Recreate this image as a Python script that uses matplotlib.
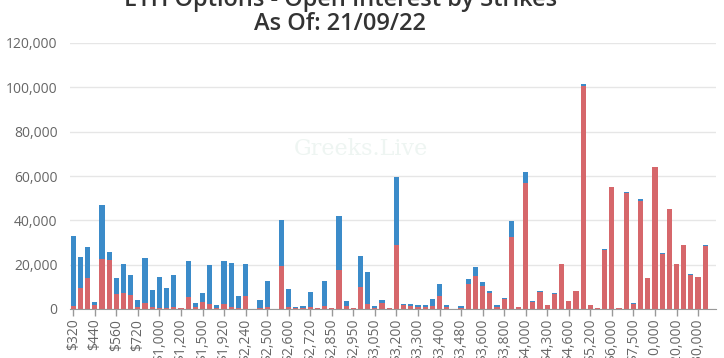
import matplotlib
matplotlib.use("Agg")
import matplotlib.pyplot as plt
import numpy as np

strikes = [320, 360, 400, 440, 480, 520, 560, 600, 640, 720, 800, 900, 1000, 1100, 1150,
           1200, 1300, 1400, 1500, 1600, 1800, 1920, 2000, 2100, 2240, 2300, 2400, 2500,
           2550, 2560, 2600, 2640, 2680, 2720, 2750, 2800, 2850, 2880, 2900, 2950, 3000,
           3040, 3050, 3100, 3150, 3200, 3250, 3280, 3300, 3320, 3350, 3400, 3440, 3450,
           3480, 3500, 3520, 3600, 3700, 3750, 3800, 3840, 3900, 4000, 4100, 4200, 4300,
           4400, 4500, 4600, 4800, 5000, 5200, 5400, 5500, 6000, 6400, 7000, 7500, 8000,
           9000, 10000, 12000, 15000, 20000, 22000, 25000, 30000, 35000, 40000]
labels = [f"${s:,}" for s in strikes]

# totals (calls + puts) and calls, in thousands of contracts
totals = [33.0, 23.3, 27.8, 3.3, 46.9, 25.6, 13.8, 20.3, 15.3, 4.0,
          22.8, 8.6, 14.3, 9.3, 15.3, 0.6, 21.7, 2.8, 7.4, 19.8,
          1.8, 21.5, 20.7, 5.9, 20.5, 0.0, 4.2, 12.6, 0.0, 40.3,
          9.0, 0.8, 1.5, 7.5, 0.6, 12.6, 0.6, 42.0, 3.8, 0.5,
          24.0, 16.7, 1.4, 4.2, 0.5, 59.4, 2.2, 2.2, 2.0, 1.8,
          4.4, 11.1, 1.8, 0.0, 1.5, 13.4, 19.0, 12.2, 8.0, 1.7,
          4.9, 39.7, 1.0, 61.6, 3.4, 8.0, 2.0, 7.1, 20.5, 3.8,
          8.3, 101.3, 1.8, 0.5, 27.0, 55.2, 0.5, 52.8, 2.6, 49.6,
          14.1, 64.2, 25.1, 45.2, 20.2, 29.0, 15.6, 14.4, 28.7, 0.0]
calls = [1.2, 9.3, 13.8, 2.0, 22.5, 22.1, 6.6, 7.1, 6.3, 1.0,
         2.9, 1.0, 0.5, 0.5, 1.0, 0.3, 5.3, 0.8, 3.2, 2.1,
         0.3, 2.2, 0.8, 0.5, 6.0, 0.0, 0.3, 0.8, 0.0, 19.3,
         1.0, 0.3, 0.5, 1.0, 0.3, 1.5, 0.3, 17.6, 1.5, 0.3,
         9.8, 2.2, 0.6, 2.5, 0.3, 28.7, 1.8, 1.2, 1.0, 0.8,
         1.5, 6.0, 0.8, 0.0, 0.5, 11.3, 15.0, 10.5, 7.0, 1.0,
         4.4, 32.5, 0.7, 56.8, 3.1, 7.8, 1.8, 6.9, 20.2, 3.6,
         8.1, 100.6, 1.6, 0.4, 26.8, 54.9, 0.4, 52.5, 2.4, 48.8,
         14.0, 64.0, 25.0, 45.0, 20.1, 28.9, 15.5, 14.3, 28.6, 0.0]

calls_v = np.array(calls) * 1000
puts_v = (np.array(totals) - np.array(calls)) * 1000

RED = "#d6676b"
BLUE = "#3b8bc9"

fig = plt.figure(figsize=(7.24, 3.58), dpi=100)
ax = fig.add_axes([70 / 724, 1 - 309 / 358, 646 / 724, (309 - 43) / 358])

x = np.arange(len(strikes))
ax.bar(x, calls_v, width=0.72, color=RED, zorder=3, linewidth=0)
ax.bar(x, puts_v, width=0.72, bottom=calls_v, color=BLUE, zorder=3, linewidth=0)

ax.set_xlim(-0.45, len(strikes) - 0.5)
ax.set_ylim(0, 120000)
ax.set_yticks(np.arange(0, 120001, 20000))
ax.set_yticklabels([f"{v:,}" for v in range(0, 120001, 20000)],
                   fontsize=10, color="#666666", family="Open Sans")
ax.tick_params(axis="y", length=0, pad=9)
ax.grid(axis="y", color="#e6e6e6", linewidth=1, zorder=0)

ticks = x[::3]
ax.set_xticks(ticks)
ax.set_xticklabels([labels[i] for i in ticks], rotation=90, fontsize=10,
                   color="#666666", family="Open Sans")
ax.tick_params(axis="x", length=5, width=1, color="#999999", pad=2)

for s in ["top", "right", "left"]:
    ax.spines[s].set_visible(False)
ax.spines["bottom"].set_color("#999999")
ax.spines["bottom"].set_zorder(4)

# faint watermark
ax.text(0.45, 0.6, "Greeks.Live", transform=ax.transAxes, fontsize=16,
        color="#eef5f2", family="DejaVu Serif", ha="center", va="center", zorder=1)

fig.text(0.47, 1 - 6 / 358, "ETH Options - Open Interest by Strikes", ha="center",
         va="baseline", fontsize=17, fontweight="semibold", color="#333333", family="Open Sans")
fig.text(0.47, 1 - 30 / 358, "As Of: 21/09/22", ha="center", va="baseline",
         fontsize=17, fontweight="semibold", color="#333333", family="Open Sans")

fig.savefig("out.png", dpi=100)
